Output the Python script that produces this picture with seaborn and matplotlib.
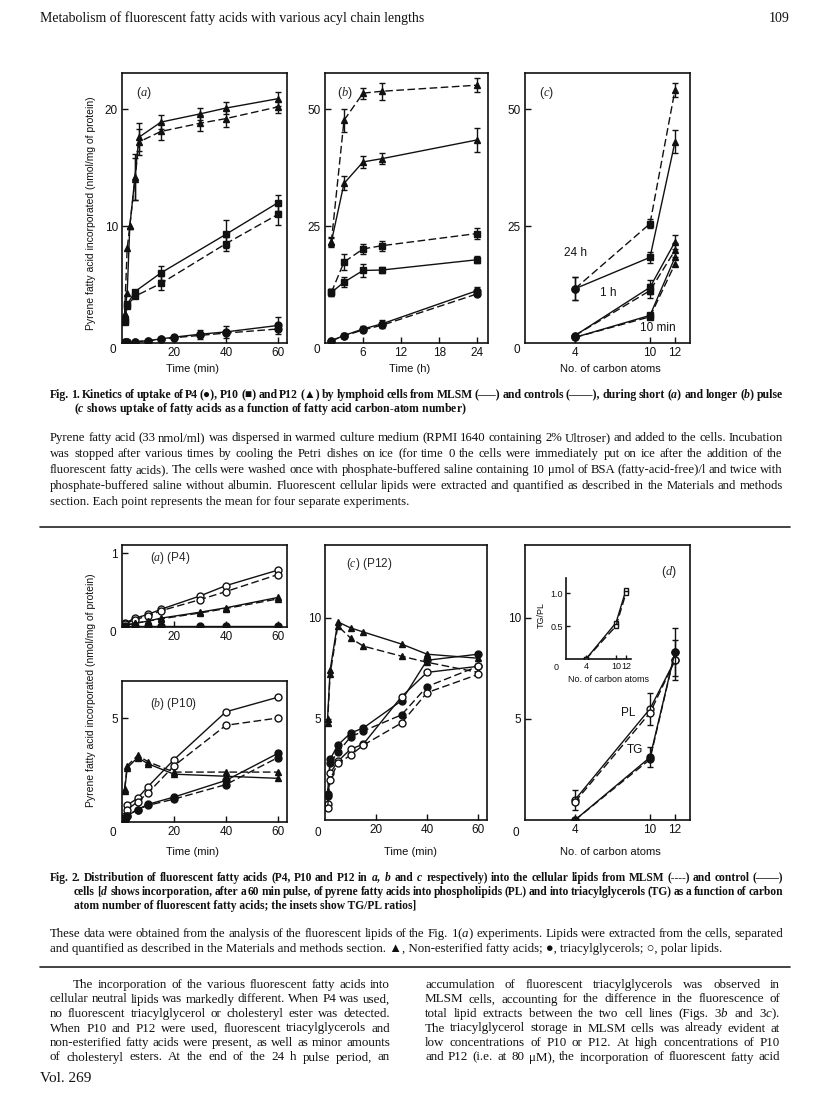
import matplotlib
matplotlib.use("Agg")
import matplotlib.pyplot as plt
import seaborn as sns

# ---------------- Fig. 1 data ----------------
# (a) short pulse (min)
t1a = [1, 2, 3, 5, 6.5, 15, 30, 40, 60]
p12_ctrl_a = [2.5, 4.3, 10.0, 14.2, 17.6, 18.9, 19.6, 20.1, 20.9]
p12_ctrl_a_err = [0, 0, 0, 2.0, 1.2, 0.6, 0.5, 0.5, 0.6]
p12_mlsm_a = [2.5, 8.1, 10.0, 14.0, 17.2, 18.1, 18.8, 19.2, 20.2]
p12_mlsm_a_err = [0, 0, 0, 1.8, 1.1, 0.7, 0.7, 0.7, 0.5]
t1a_p10 = [1, 2, 5, 15, 40, 60]
p10_ctrl_a = [2.0, 3.3, 4.4, 6.0, 9.3, 12.0]
p10_ctrl_a_err = [0, 0, 0, 0.6, 1.2, 0.7]
p10_mlsm_a = [1.8, 3.2, 4.0, 5.1, 8.5, 11.0]
p10_mlsm_a_err = [0, 0, 0, 0.6, 0.6, 0.9]
t1a_p4 = [1, 2, 5, 10, 15, 20, 30, 40, 60]
p4_ctrl_a = [0.05, 0.1, 0.1, 0.2, 0.35, 0.5, 0.75, 0.95, 1.5]
p4_ctrl_a_err = [0, 0, 0, 0, 0, 0, 0.4, 0.5, 0.7]
p4_mlsm_a = [0.05, 0.1, 0.1, 0.2, 0.3, 0.45, 0.65, 0.85, 1.2]

# (b) longer pulse (h)
t1b = [1, 3, 6, 9, 24]
p12_mlsm_b = [21.6, 47.6, 53.4, 53.8, 55.1]
p12_mlsm_b_err = [1.0, 2.5, 1.2, 1.8, 1.5]
p12_ctrl_b = [21.6, 34.1, 38.7, 39.4, 43.4]
p12_ctrl_b_err = [0.8, 1.5, 1.3, 1.2, 2.5]
p10_mlsm_b = [10.8, 17.3, 20.1, 20.8, 23.4]
p10_mlsm_b_err = [0.8, 1.8, 1.0, 1.1, 1.1]
p10_ctrl_b = [10.8, 13.0, 15.5, 15.6, 17.8]
p10_ctrl_b_err = [0.8, 1.0, 1.3, 0.7, 0.8]
p4_ctrl_b = [0.5, 1.6, 3.0, 4.1, 11.2]
p4_ctrl_b_err = [0.2, 0.5, 0.7, 0.8, 0.7]
p4_mlsm_b = [0.5, 1.5, 2.8, 3.8, 10.5]

# (c) as a function of carbon atoms
carbons = [4, 10, 12]
acid_markers = ["o", "s", "^"]
h24_mlsm = [11.6, 25.5, 54.1]
h24_mlsm_err = [2.5, 1.0, 1.5]
h24_ctrl = [11.6, 18.3, 43.0]
h24_ctrl_err = [2.5, 1.2, 2.5]
h1_mlsm = [1.6, 11.2, 19.8]
h1_ctrl = [1.6, 11.9, 21.6]
h1_err = [0, 1.5, 1.5]
m10_mlsm = [1.2, 5.6, 16.9]
m10_ctrl = [1.2, 5.9, 18.3]

# ---------------- Fig. 2 data ----------------
t2a = [1, 5, 10, 15, 30, 40, 60]
p4_pl_ctrl = [0.05, 0.12, 0.17, 0.24, 0.42, 0.56, 0.77]
p4_pl_mlsm = [0.04, 0.10, 0.15, 0.22, 0.37, 0.48, 0.71]
p4_ne_ctrl = [0.02, 0.05, 0.08, 0.12, 0.20, 0.26, 0.40]
p4_ne_mlsm = [0.02, 0.05, 0.08, 0.11, 0.19, 0.25, 0.38]
p4_tg = [0.01, 0.01, 0.01, 0.01, 0.01, 0.01, 0.01]

t2b = [1, 2, 6, 10, 20, 40, 60]
p10_pl_ctrl = [0.3, 0.8, 1.15, 1.7, 3.0, 5.3, 6.0]
p10_pl_mlsm = [0.2, 0.6, 0.97, 1.4, 2.7, 4.65, 5.0]
p10_ne_ctrl = [1.5, 2.6, 3.1, 2.8, 2.3, 2.2, 2.1]
p10_ne_mlsm = [1.6, 2.7, 3.2, 2.9, 2.4, 2.4, 2.4]
p10_tg_ctrl = [0.1, 0.3, 0.6, 0.85, 1.2, 2.0, 3.3]
p10_tg_mlsm = [0.1, 0.3, 0.6, 0.8, 1.1, 1.8, 3.1]

t2c = [1, 2, 5, 10, 15, 30, 40, 60]
p12_ne_ctrl = [5.0, 7.4, 9.8, 9.5, 9.3, 8.7, 8.2, 8.0]
p12_ne_mlsm = [4.8, 7.2, 9.6, 9.0, 8.6, 8.1, 7.8, 7.3]
p12_tg_ctrl = [1.3, 3.0, 3.7, 4.3, 4.55, 5.9, 7.9, 8.2]
p12_tg_mlsm = [1.2, 2.8, 3.35, 4.1, 4.4, 5.2, 6.6, 7.6]
p12_pl_ctrl = [0.8, 2.3, 2.9, 3.5, 3.75, 6.1, 7.3, 7.6]
p12_pl_mlsm = [0.6, 2.0, 2.8, 3.2, 3.7, 4.8, 6.3, 7.2]

pl_ctrl_d = [1.0, 5.5, 7.9]
pl_mlsm_d = [0.9, 5.3, 7.9]
pl_err_d = [0.5, 0.8, 1.0]
tg_ctrl_d = [0.0, 3.1, 8.3]
tg_mlsm_d = [0.0, 3.0, 8.3]
tg_err_d = [0, 0.5, 1.2]
ratio_ctrl = [0.0, 0.55, 1.05]
ratio_mlsm = [0.0, 0.5, 1.0]

# ---------------- setup ----------------
sns.set_style("ticks")
SANS = ["Liberation Sans", "DejaVu Sans"]
SERIF = ["Liberation Serif", "DejaVu Serif"]
plt.rcParams["font.family"] = SANS
plt.rcParams["mathtext.fontset"] = "custom"
plt.rcParams["mathtext.rm"] = "Liberation Serif"
plt.rcParams["mathtext.it"] = "Liberation Serif:italic"
plt.rcParams["mathtext.bf"] = "Liberation Serif:bold"
if "mathtext.bfit" in plt.rcParams:
    plt.rcParams["mathtext.bfit"] = "Liberation Serif:italic:bold"

INK = "#111111"
W, H = 816, 1097
fig = plt.figure(figsize=(W / 100, H / 100), dpi=100)
R = fig.canvas.get_renderer()


def box(l, t, r, b):
    return fig.add_axes([l / W, 1 - b / H, (r - l) / W, (b - t) / H])


def style(ax, xlim, ylim, xt, yt, fs=8.5):
    ax.set_xlim(xlim)
    ax.set_ylim(ylim)
    ax.set_xticks(xt)
    ax.set_yticks(yt)
    ax.tick_params(direction="in", length=4, width=1, labelsize=fs, pad=3, colors=INK)
    for s in ax.spines.values():
        s.set_linewidth(1.2)
        s.set_color(INK)
    ax.set_xlabel("")
    ax.set_ylabel("")


def ftext(x, y, s, **kw):
    kw.setdefault("ha", "center")
    kw.setdefault("va", "center")
    kw.setdefault("fontsize", 8.5)
    kw.setdefault("color", INK)
    fig.text(x / W, 1 - y / H, s, **kw)


def series(ax, x, y, marker, dashed, filled=True, err=None, ms=5):
    sns.lineplot(x=x, y=y, ax=ax, color=INK, lw=1.0,
                 linestyle=(0, (5.5, 2.5)) if dashed else "-",
                 marker=marker, markersize=ms, markeredgecolor=INK,
                 markerfacecolor=INK if filled else "white",
                 markeredgewidth=1.0, estimator=None, sort=False)
    if err is not None:
        xs = [a for a, e in zip(x, err) if e > 0]
        ys = [b for b, e in zip(y, err) if e > 0]
        es = [e for e in err if e > 0]
        ax.errorbar(xs, ys, yerr=es, fmt="none", ecolor=INK,
                    elinewidth=1.0, capsize=2.5, capthick=1.0)


def width(word, size, weight):
    t = fig.text(0, 0, word, fontsize=size, fontweight=weight, family=SERIF)
    w = t.get_window_extent(renderer=R).width
    t.remove()
    return w


def block(rows, size, weight="normal", min_gap=2.8):
    # rows: (text, x0, baseline y, right edge or None); one common size for the block
    while size > 6:
        ok = True
        for txt, x0, yb, x1 in rows:
            if x1 is None:
                continue
            words = txt.split(" ")
            total = sum(width(w, size, weight) for w in words)
            if (x1 - x0 - total) / (len(words) - 1) < min_gap:
                ok = False
                break
        if ok:
            break
        size -= 0.1
    kw = dict(fontsize=size, fontweight=weight, family=SERIF, va="baseline",
              ha="left", color=INK)
    for txt, x0, yb, x1 in rows:
        if x1 is None:
            fig.text(x0 / W, 1 - yb / H, txt, **kw)
            continue
        words = txt.split(" ")
        ws = [width(w, size, weight) for w in words]
        gap = (x1 - x0 - sum(ws)) / (len(words) - 1)
        x = x0
        for w, wd in zip(words, ws):
            fig.text(x / W, 1 - yb / H, w, **kw)
            x += wd + gap


# ---------------- header ----------------
block([("Metabolism of fluorescent fatty acids with various acyl chain lengths", 40, 22, None)], 10)
fig.text(790 / W, 1 - 22 / H, "109", ha="right", va="baseline", fontsize=10, family=SERIF, color=INK)

# ---------------- Fig. 1 ----------------
ax = box(122, 73, 287, 343)
series(ax, t1a, p12_ctrl_a, "^", False, err=p12_ctrl_a_err)
series(ax, t1a, p12_mlsm_a, "^", True, err=p12_mlsm_a_err)
series(ax, t1a_p10, p10_ctrl_a, "s", False, err=p10_ctrl_a_err, ms=4.5)
series(ax, t1a_p10, p10_mlsm_a, "s", True, err=p10_mlsm_a_err, ms=4.5)
series(ax, t1a_p4, p4_ctrl_a, "o", False, err=p4_ctrl_a_err)
series(ax, t1a_p4, p4_mlsm_a, "o", True)
style(ax, (0, 63.5), (0, 23.1), [20, 40, 60], [10, 20])
ax.text(0.13, 0.925, "($\\mathit{a}$)", transform=ax.transAxes, ha="center", va="center", fontsize=9)

ax = box(325, 73, 488, 343)
series(ax, t1b, p12_mlsm_b, "^", True, err=p12_mlsm_b_err)
series(ax, t1b, p12_ctrl_b, "^", False, err=p12_ctrl_b_err)
series(ax, t1b, p10_mlsm_b, "s", True, err=p10_mlsm_b_err, ms=4.5)
series(ax, t1b, p10_ctrl_b, "s", False, err=p10_ctrl_b_err, ms=4.5)
series(ax, t1b, p4_ctrl_b, "o", False, err=p4_ctrl_b_err)
series(ax, t1b, p4_mlsm_b, "o", True)
style(ax, (0, 25.7), (0, 57.7), [6, 12, 18, 24], [25, 50])
ax.text(0.12, 0.925, "($\\mathit{b}$)", transform=ax.transAxes, ha="center", va="center", fontsize=9)

ax = box(525, 73, 690, 343)
for ys, dashed, err in [(h24_mlsm, True, h24_mlsm_err), (h24_ctrl, False, h24_ctrl_err),
                        (h1_mlsm, True, h1_err), (h1_ctrl, False, h1_err),
                        (m10_mlsm, True, None), (m10_ctrl, False, None)]:
    series(ax, carbons, ys, None, dashed, err=err)
    for cx, cy, mk in zip(carbons, ys, acid_markers):
        ax.plot(cx, cy, marker=mk, ms=5, color=INK, ls="none")
style(ax, (0, 13.2), (0, 57.7), carbons, [25, 50])
ax.text(0.13, 0.925, "($\\mathit{c}$)", transform=ax.transAxes, ha="center", va="center", fontsize=9)
ftext(575, 253, "24 h")
ftext(608, 293, "1 h")
ftext(658, 328, "10 min")

for x in (113, 317, 517):
    ftext(x, 350, "0")
ftext(91, 213, "Pyrene fatty acid incorporated (nmol/mg of protein)", rotation=90, fontsize=7.5)
ftext(192, 369, "Time (min)", fontsize=8)
ftext(410, 369, "Time (h)", fontsize=8)
ftext(610, 369, "No. of carbon atoms", fontsize=8)

block([
    ("Fig. 1. Kinetics of uptake of P4 (\u25cf), P10 (\u25a0) and P12 (\u25b2) by lymphoid cells from MLSM (\u2013\u2013\u2013) "
     "and controls (\u2014\u2014), during short ($\\mathbfit{a}$) and longer ($\\mathbfit{b}$) pulse", 50, 398, 783),
    ("($\\mathbfit{c}$ shows uptake of fatty acids as a function of fatty acid carbon-atom number)", 74, 412, None),
], 9.5, weight="bold", min_gap=1.9)

cap1 = [
    "Pyrene fatty acid (33 nmol/ml) was dispersed in warmed culture medium (RPMI 1640 containing 2% Ultroser) and added to the cells. Incubation",
    "was stopped after various times by cooling the Petri dishes on ice (for time 0 the cells were immediately put on ice after the addition of the",
    "fluorescent fatty acids). The cells were washed once with phosphate-buffered saline containing 10 \u03bcmol of BSA (fatty-acid-free)/l and twice with",
    "phosphate-buffered saline without albumin. Fluorescent cellular lipids were extracted and quantified as described in the Materials and methods",
    "section. Each point represents the mean for four separate experiments.",
]
block([(s, 50, 441 + 16 * i, 783 if i < 4 else None) for i, s in enumerate(cap1)], 9.5, min_gap=2.6)

fig.add_artist(plt.Line2D([40 / W, 790 / W], [1 - 527 / H] * 2, color="#222222", lw=1.2))

# ---------------- Fig. 2 ----------------
ax = box(122, 545, 287, 627)
series(ax, t2a, p4_pl_ctrl, "o", False, filled=False)
series(ax, t2a, p4_pl_mlsm, "o", True, filled=False)
series(ax, t2a, p4_ne_ctrl, "^", False)
series(ax, t2a, p4_ne_mlsm, "^", True)
series(ax, t2a, p4_tg, "o", False)
style(ax, (0, 63.5), (0, 1.11), [20, 40, 60], [1])
ax.text(0.17, 0.84, "($\\mathit{a}$) (P4)", transform=ax.transAxes, ha="left", va="center", fontsize=8.5)

ax = box(122, 681, 287, 822)
series(ax, t2b, p10_pl_ctrl, "o", False, filled=False)
series(ax, t2b, p10_pl_mlsm, "o", True, filled=False)
series(ax, t2b, p10_ne_ctrl, "^", False)
series(ax, t2b, p10_ne_mlsm, "^", True)
series(ax, t2b, p10_tg_ctrl, "o", False)
series(ax, t2b, p10_tg_mlsm, "o", True)
style(ax, (0, 63.5), (0, 6.78), [20, 40, 60], [5])
ax.text(0.17, 0.84, "($\\mathit{b}$) (P10)", transform=ax.transAxes, ha="left", va="center", fontsize=8.5)

ax = box(325, 545, 487, 820)
series(ax, t2c, p12_ne_ctrl, "^", False)
series(ax, t2c, p12_ne_mlsm, "^", True)
series(ax, t2c, p12_tg_ctrl, "o", False)
series(ax, t2c, p12_tg_mlsm, "o", True)
series(ax, t2c, p12_pl_ctrl, "o", False, filled=False)
series(ax, t2c, p12_pl_mlsm, "o", True, filled=False)
style(ax, (0, 63.5), (0, 13.6), [20, 40, 60], [5, 10])
ax.text(0.13, 0.93, "($\\mathit{c}$) (P12)", transform=ax.transAxes, ha="left", va="center", fontsize=8.5)

ax = box(525, 545, 690, 820)
series(ax, carbons, pl_ctrl_d, "o", False, filled=False, err=pl_err_d)
series(ax, carbons, pl_mlsm_d, "o", True, filled=False)
series(ax, carbons, tg_ctrl_d, "o", False, err=tg_err_d)
series(ax, carbons, tg_mlsm_d, "o", True)
style(ax, (0, 13.2), (0, 13.6), carbons, [5, 10])
ax.text(0.87, 0.9, "($\\mathit{d}$)", transform=ax.transAxes, ha="center", va="center", fontsize=9)
ftext(628, 713, "PL")
ftext(635, 750, "TG")

ins = box(566, 578, 631, 659)
series(ins, carbons, ratio_ctrl, "s", False, filled=False, ms=3.5)
series(ins, carbons, ratio_mlsm, "s", True, filled=False, ms=3.5)
style(ins, (0, 13), (0, 1.23), carbons, [0.5, 1.0], fs=6.5)
ins.set_yticklabels(["0.5", "1.0"])
ins.tick_params(length=3, pad=2)
ins.spines["top"].set_visible(False)
ins.spines["right"].set_visible(False)
ftext(556, 667, "0", fontsize=6.5)
ftext(541, 615, "TG/PL", rotation=90, fontsize=6.5)
ftext(609, 680, "No. of carbon atoms", fontsize=6.5)

for x, y in [(113, 633), (113, 833), (318, 833), (516, 833)]:
    ftext(x, y, "0")
ftext(91, 690, "Pyrene fatty acid incorporated (nmol/mg of protein)", rotation=90, fontsize=7.5)
ftext(192, 852, "Time (min)", fontsize=8)
ftext(410, 852, "Time (min)", fontsize=8)
ftext(610, 852, "No. of carbon atoms", fontsize=8)

block([
    ("Fig. 2. Distribution of fluorescent fatty acids (P4, P10 and P12 in $\\mathbfit{a}$, $\\mathbfit{b}$ and $\\mathbfit{c}$ "
     "respectively) into the cellular lipids from MLSM (----) and control (\u2014\u2014)", 50, 881, 783),
    ("cells [$\\mathbfit{d}$ shows incorporation, after a 60 min pulse, of pyrene fatty acids into phospholipids (PL) "
     "and into triacylglycerols (TG) as a function of carbon", 74, 895, 783),
    ("atom number of fluorescent fatty acids; the insets show TG/PL ratios]", 74, 909, None),
], 9.5, weight="bold", min_gap=1.9)
block([
    ("These data were obtained from the analysis of the fluorescent lipids of the Fig. 1($\\mathit{a}$) experiments. "
     "Lipids were extracted from the cells, separated", 50, 937, 783),
    ("and quantified as described in the Materials and methods section. \u25b2, Non-esterified fatty acids; "
     "\u25cf, triacylglycerols; \u25cb, polar lipids.", 50, 952, None),
], 9.5, min_gap=2.6)

fig.add_artist(plt.Line2D([40 / W, 790 / W], [1 - 967 / H] * 2, color="#222222", lw=1.2))

# ---------------- body text ----------------
left_col = [
    "The incorporation of the various fluorescent fatty acids into",
    "cellular neutral lipids was markedly different. When P4 was used,",
    "no fluorescent triacylglycerol or cholesteryl ester was detected.",
    "When P10 and P12 were used, fluorescent triacylglycerols and",
    "non-esterified fatty acids were present, as well as minor amounts",
    "of cholesteryl esters. At the end of the 24 h pulse period, an",
]
right_col = [
    "accumulation of fluorescent triacylglycerols was observed in",
    "MLSM cells, accounting for the difference in the fluorescence of",
    "total lipid extracts between the two cell lines (Figs. 3$\\mathit{b}$ and 3$\\mathit{c}$).",
    "The triacylglycerol storage in MLSM cells was already evident at",
    "low concentrations of P10 or P12. At high concentrations of P10",
    "and P12 (i.e. at 80 \u03bcM), the incorporation of fluorescent fatty acid",
]
rows = [(s, 73 if i == 0 else 50, 988 + 14.5 * i, 390) for i, s in enumerate(left_col)]
rows += [(s, 425, 988 + 14.5 * i, 780) for i, s in enumerate(right_col)]
block(rows, 10.5, min_gap=2.6)
block([("Vol. 269", 40, 1082, None)], 11)

fig.savefig("out.png", dpi=100, facecolor="white")
